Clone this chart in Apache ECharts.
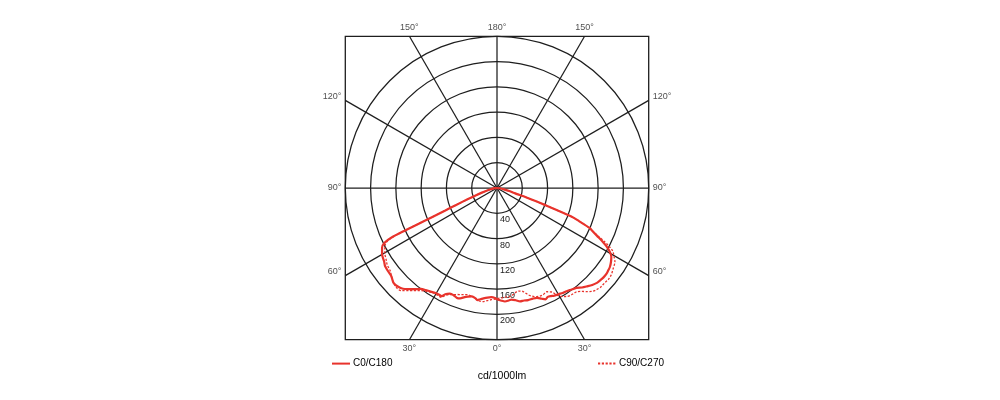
<!DOCTYPE html>
<html>
<head>
<meta charset="utf-8">
<script src="https://cdn.jsdelivr.net/npm/echarts@6/dist/echarts.min.js"></script>
<style>
html,body{margin:0;padding:0;background:#fff;}
#chart{width:1000px;height:400px;}
</style>
</head>
<body>
<div id="chart"></div>
<script>
// Gamma angle from nadir: positive = left half, negative = right half (degrees)
const gammaC0 = [90,85,80,76,73,71,69,67.5,66.5,65.7,65.2,64.8,64,62.5,60,57,55,52,50,47.5,45,43,41,39,37,35,33,31,29,27,26,24,22,20,18.5,16.5,15,13,11,10,8.5,7,5,3,1,0,-2,-4,-6,-7.5,-9.5,-11.5,-13.5,-15.5,-18,-20,-22,-23.5,-25,-26.5,-28,-30,-32,-34,-36,-38.5,-40.5,-42.5,-44.5,-46.5,-48,-50,-52,-53.5,-55,-57,-59,-60.5,-62,-63,-64.5,-66,-66.6,-68,-69,-70.5,-72,-73.6,-76,-80,-85,-90];
const cdC0 = [0,3,8,15,25,35,50,70,90,120,160,185,198,205,210,213,216,217,218,222,221,218,212,206,200,197,195,193,192,192,187,183,183,185,184,180,178,176,178,180,178,176,174,173,174,176,178,180,179,178,180,183,183,184,184,185,189,192,190,191,193,194,196,197,199,202,207,211,215,218,219,220,220,219,218,215,211,205,196,188,175,164,160,140,126,80,50,30,20,10,4,0];

const gammaC90 = [90,85,80,76,73,71,69,67.5,66.5,65.7,65.2,64.8,64,62.5,60,57,55,52,50,47.5,45,43,41,39,37,35,33,31,29,27,26,24.2,22,20.6,18.5,16.7,15,13,11,9,7,5,3,1,0,-2.4,-5,-6.8,-9,-10.8,-12.5,-14.2,-16.3,-18,-20.1,-22,-23.4,-25.6,-27.8,-29,-30.5,-32.7,-35,-37.5,-39.5,-40.9,-42.5,-44.3,-46.5,-48.6,-50.5,-52.8,-55,-58,-59.5,-61.3,-62.5,-63.5,-64.5,-66,-66.6,-68,-69,-70.5,-72,-73.6,-76,-80,-85,-90];
const cdC90 = [0,3,8,15,25,35,50,70,90,120,160,183,194,200,205,209,212,214,218,222,224,222,215,209,203,199,196,194,194,194,190,185,182,180,178,176,175,176,178,181,181,179,177,176,175,174,173,173,170,167,167,169,176,180,183,184,184,182,186,193,199,204,206,207,212,217,222,225,227,227,228,227,224,220,215,209,200,190,178,164,160,140,126,80,50,30,20,10,4,0];

const radiusTicks = [0, 40, 80, 120, 160, 200, 240];
const radiusLabels = ['', '40', '80', '120', '160', '200', ''];
const spokeAngles = [0, 30, 60, 90, 120, 150, 180, 210, 240, 270, 300, 330];
const angleLabelTexts = ['0°', '30°', '60°', '90°', '120°', '150°', '180°', '150°', '120°', '90°', '60°', '30°'];
const seriesNames = ['C0/C180', 'C90/C270'];
const unitText = 'cd/1000lm';

const RMAX = radiusTicks[radiusTicks.length - 1];
const RED = '#e8332c';
const INK = '#1e1e1e';
const FONT = 'Liberation Sans, Arial, sans-serif';
const CX = 497, CY = 188, RPX = 151.7;

function toAngle(g) { return (g + 360) % 360; }
function frameR(a) {
  const t = a * Math.PI / 180;
  return RMAX / Math.max(Math.abs(Math.cos(t)), Math.abs(Math.sin(t)));
}

const series = [];
// spokes in the square frame (cartesian overlay, same centre and scale)
spokeAngles.forEach(a => {
  const t = a * Math.PI / 180, r = frameR(a);
  series.push({
    type: 'line', xAxisIndex: 0, yAxisIndex: 0, silent: true,
    symbol: 'none', lineStyle: { color: INK, width: 1.25 }, z: 1,
    data: [[0, 0], [-r * Math.sin(t), -r * Math.cos(t)]]
  });
});
// angle labels outside frame
series.push({
  type: 'scatter', coordinateSystem: 'polar', clip: false, silent: true,
  symbolSize: 0, z: 3,
  data: spokeAngles.map((a, i) => {
    const t = a * Math.PI / 180;
    const c = Math.cos(t), s = Math.sin(t);
    let pos, off = [0, 0];
    if (Math.abs(c) >= Math.abs(s) - 1e-9) { pos = c > 0 ? 'bottom' : 'top'; }
    else { pos = s > 0 ? 'left' : 'right'; if (Math.abs(c) > 0.1) off = [0, -4]; }
    return { value: [frameR(a), a], label: { position: pos, offset: off, formatter: angleLabelTexts[i] } };
  }),
  label: { show: true, fontSize: 9, color: '#222', fontFamily: FONT, distance: 4 }
});
// photometric curves
series.push({
  name: seriesNames[0], type: 'line', coordinateSystem: 'polar', clip: false,
  symbol: 'none', smooth: 0.3, z: 5,
  lineStyle: { color: RED, width: 2.2, type: 'solid' }, itemStyle: { color: RED },
  data: gammaC0.map((g, i) => [cdC0[i], toAngle(g)])
});
series.push({
  name: seriesNames[1], type: 'line', coordinateSystem: 'polar', clip: false,
  symbol: 'none', smooth: 0.3, z: 4,
  lineStyle: { color: RED, width: 1.3, type: [2.2, 1.6] }, itemStyle: { color: RED },
  data: gammaC90.map((g, i) => [cdC90[i], toAngle(g)])
});

const chart = echarts.init(document.getElementById('chart'), null, { renderer: 'canvas' });
const legendBase = {
  itemWidth: 18, itemHeight: 14, itemGap: 4, padding: 0,
  itemStyle: { opacity: 0, color: 'transparent', borderWidth: 0 },
  textStyle: { fontSize: 10, color: '#000', fontFamily: FONT, padding: [0, 0, 0, -2] }
};
chart.setOption({
  animation: false,
  backgroundColor: '#fff',
  grid: {
    left: CX - RPX, top: CY - RPX, width: 2 * RPX, height: 2 * RPX,
    show: true, borderColor: INK, borderWidth: 1.3, backgroundColor: 'transparent', containLabel: false
  },
  xAxis: { type: 'value', min: -RMAX, max: RMAX, show: false },
  yAxis: { type: 'value', min: -RMAX, max: RMAX, show: false },
  polar: { center: [CX, CY], radius: RPX },
  angleAxis: {
    type: 'value', min: 0, max: 360, startAngle: 270, clockwise: true,
    axisLine: { show: false }, axisTick: { show: false }, axisLabel: { show: false },
    splitLine: { show: false }
  },
  radiusAxis: {
    type: 'value', min: 0, max: RMAX, interval: 40,
    axisLine: { show: false }, axisTick: { show: false },
    axisLabel: {
      show: true, fontSize: 9, color: '#222', fontFamily: FONT, margin: 3,
      align: 'left', verticalAlign: 'top', padding: [2, 0, 0, 0],
      formatter: v => radiusLabels[radiusTicks.indexOf(v)] || ''
    },
    splitLine: { show: true, lineStyle: { color: INK, width: 1.25 } }
  },
  legend: [
    Object.assign({ data: [seriesNames[0]], left: 331, top: 358 }, legendBase),
    Object.assign({ data: [seriesNames[1]], left: 597, top: 358 }, legendBase)
  ],
  title: {
    text: unitText, left: CX, top: 366, textAlign: 'center',
    textStyle: { fontSize: 10.5, fontWeight: 'normal', color: '#000', fontFamily: FONT }
  },
  series: series
});
</script>
</body>
</html>
